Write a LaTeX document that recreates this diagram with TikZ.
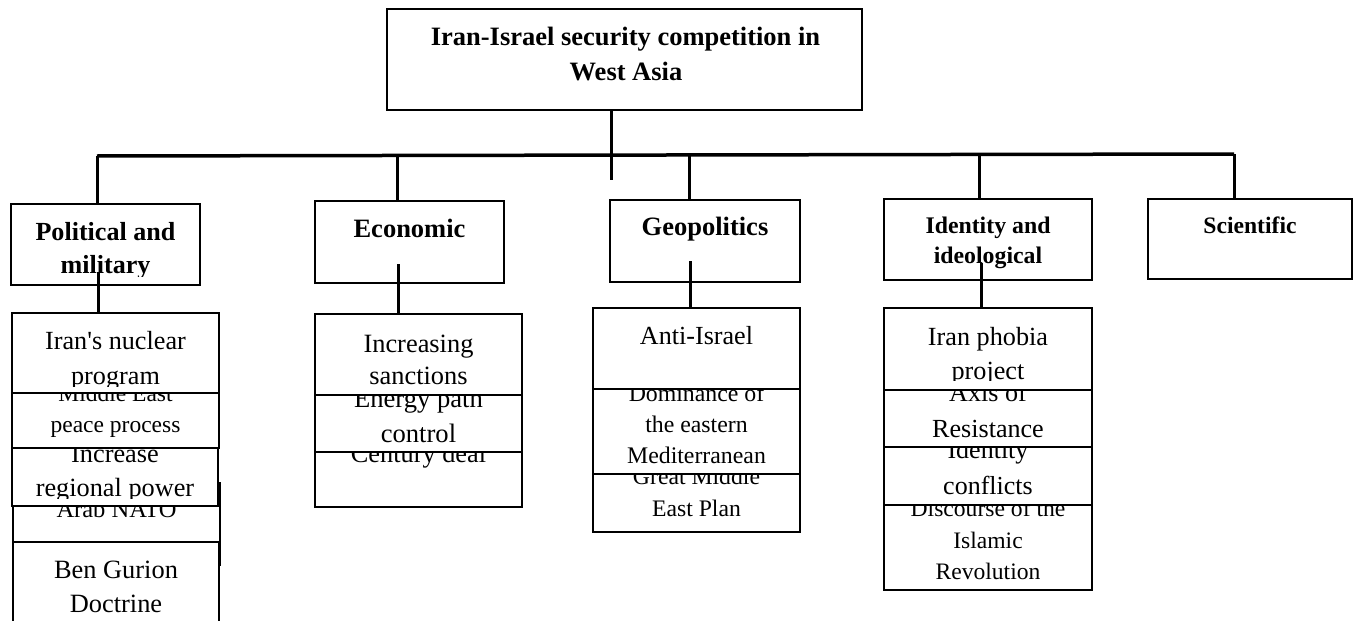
\documentclass[tikz,border=0pt]{standalone}
\usepackage{fontspec}
\setmainfont{Liberation Serif}
\newcommand\mkbox[5]{\node[boxsty, minimum width={(#4-#2)*1pt}, minimum height={(#5-#3)*1pt}] (#1) at ({(#2+#4)/2},{(#3+#5)/2}) {};}
\newcommand\mytxt[5]{\node[#4, anchor=base] (#1) at (#2,#3) {#5};}
\begin{document}
\begin{tikzpicture}[x=1pt,y=-1pt,
  boxsty/.style={draw=black, fill=white, line width=1.8pt, inner sep=0pt, outer sep=0pt},
  conn/.style={line width=3pt},
  barsty/.style={line width=3.5pt},
  rg/.style={font=\fontsize{#1}{#1}\selectfont, inner sep=0pt, outer sep=0pt},
  bd/.style={font=\fontsize{#1}{#1}\selectfont\bfseries, inner sep=0pt, outer sep=0pt}]
\useasboundingbox (0,0) rectangle (1358,621);
\fill[white] (0,0) rectangle (1358,621);
\clip (0,0) rectangle (1358,621);

% top
\mkbox{top}{387}{9}{862}{110}
\mytxt{topa}{625.5}{45}{bd=26.5}{Iran-Israel security competition in}
\mytxt{topb}{626}{80}{bd=26.5}{West Asia}

% headings
\mkbox{pol}{11}{204}{200}{285}
\begin{scope}\clip (11,204) rectangle (200,276);
\mytxt{pola}{105.5}{240}{bd=26.1}{Political and}
\mytxt{polb}{105.5}{273}{bd=26.1}{military}
\end{scope}
\mkbox{eco}{315}{201}{504}{283}
\mytxt{ecoa}{409.5}{237}{bd=26.5}{Economic}
\mkbox{geo}{610}{200}{800}{282}
\mytxt{geoa}{705}{235}{bd=26.5}{Geopolitics}
\mkbox{ide}{884}{199}{1092}{280}
\mytxt{idea}{988}{233}{bd=23.8}{Identity and}
\mytxt{ideb}{988}{263}{bd=23.8}{ideological}
\mkbox{sci}{1148}{199}{1352}{279}
\mytxt{scia}{1250}{233}{bd=23.6}{Scientific}

% political column
\mkbox{pfour}{13}{483}{220}{565}
\begin{scope}\clip (13,483) rectangle (220,556);
\mytxt{pfoura}{116.5}{517}{rg=24.5}{Arab NATO}
\end{scope}
\mkbox{pfive}{13}{542}{219}{630}
\mytxt{pfivea}{116}{578}{rg=26.4}{Ben Gurion}
\mytxt{pfiveb}{116}{612}{rg=26.4}{Doctrine}
\mkbox{pthree}{12}{430}{218}{506}
\begin{scope}\clip (12,430) rectangle (218,498);
\mytxt{pthreea}{115}{462}{rg=26.3}{Increase}
\mytxt{pthreeb}{115}{496}{rg=26.3}{regional power}
\end{scope}
\mkbox{ptwo}{12}{370}{219}{448}
\begin{scope}\clip (12,370) rectangle (219,441);
\mytxt{ptwoa}{115.5}{401}{rg=23.5}{Middle East}
\mytxt{ptwob}{115.5}{432}{rg=23.5}{peace process}
\end{scope}
\mkbox{pone}{12}{313}{219}{393}
\begin{scope}\clip (12,313) rectangle (219,386);
\mytxt{ponea}{115.5}{349}{rg=26.2}{Iran\textquotesingle s nuclear}
\mytxt{poneb}{115.5}{384}{rg=26.2}{program}
\end{scope}

% economic column
\mkbox{ethree}{315}{430}{522}{507}
\begin{scope}\clip (315,430) rectangle (522,499);
\mytxt{ethreea}{418.5}{462}{rg=26.3}{Century deal}
\end{scope}
\mkbox{etwo}{315}{375}{522}{452}
\begin{scope}\clip (315,375) rectangle (522,444);
\mytxt{etwoa}{418.5}{407}{rg=26.6}{Energy path}
\mytxt{etwob}{418.5}{442}{rg=26.6}{control}
\end{scope}
\mkbox{eone}{315}{314}{522}{395}
\begin{scope}\clip (315,314) rectangle (522,387);
\mytxt{eonea}{418.5}{352}{rg=26.4}{Increasing}
\mytxt{eoneb}{418.5}{384}{rg=26.4}{sanctions}
\end{scope}

% geopolitics column
\mkbox{gthree}{593}{450}{800}{532}
\begin{scope}\clip (593,450) rectangle (800,524);
\mytxt{gthreea}{696.5}{484}{rg=23.7}{Great Middle}
\mytxt{gthreeb}{696.5}{516}{rg=23.7}{East Plan}
\end{scope}
\mkbox{gtwo}{593}{370}{800}{474}
\begin{scope}\clip (593,370) rectangle (800,466);
\mytxt{gtwoa}{696.5}{401}{rg=23.8}{Dominance of}
\mytxt{gtwob}{696.5}{432}{rg=23.8}{the eastern}
\mytxt{gtwoc}{696.5}{463}{rg=23.8}{Mediterranean}
\end{scope}
\mkbox{gone}{593}{308}{800}{389}
\mytxt{gonea}{696.5}{344}{rg=26.1}{Anti-Israel}

% identity column
\mkbox{ifour}{884}{480}{1092}{590}
\begin{scope}\clip (884,480) rectangle (1092,581);
\mytxt{ifoura}{988}{516}{rg=23.6}{Discourse of the}
\mytxt{ifourb}{988}{548}{rg=23.6}{Islamic}
\mytxt{ifourc}{988}{579}{rg=23.6}{Revolution}
\end{scope}
\mkbox{ithree}{884}{425}{1092}{505}
\begin{scope}\clip (884,425) rectangle (1092,496);
\mytxt{ithreea}{988}{458}{rg=26}{Identity}
\mytxt{ithreeb}{988}{494}{rg=26}{conflicts}
\end{scope}
\mkbox{itwo}{884}{370}{1092}{447}
\begin{scope}\clip (884,370) rectangle (1092,439);
\mytxt{itwoa}{988}{401}{rg=26.1}{Axis of}
\mytxt{itwob}{988}{437}{rg=26.1}{Resistance}
\end{scope}
\mkbox{ione}{884}{308}{1092}{390}
\begin{scope}\clip (884,308) rectangle (1092,380);
\mytxt{ionea}{988}{345}{rg=26.2}{Iran phobia}
\mytxt{ioneb}{988}{379}{rg=26.2}{project}
\end{scope}

% connectors
\coordinate (cT) at (611,180);
\draw[conn] (top.south -| cT) -- (cT);
\coordinate (bL) at (97,156);
\coordinate (bR) at (1234,154);
\draw[barsty] (bL) -- (bR);
\coordinate (jE) at (397,155.5);
\coordinate (jG) at (689,155);
\coordinate (jI) at (979,154.5);
\draw[conn] (bL) -- (bL |- pol.north);
\draw[conn] (jE) -- (jE |- eco.north);
\draw[conn] (jG) -- (jG |- geo.north);
\draw[conn] (jI) -- (jI |- ide.north);
\draw[conn] (bR) -- (bR |- sci.north);
\coordinate (kP) at (98,272);
\coordinate (kE) at (398,264);
\coordinate (kG) at (690,261);
\coordinate (kI) at (981,263);
\draw[conn] (kP) -- (kP |- pone.north);
\draw[conn] (kE) -- (kE |- eone.north);
\draw[conn] (kG) -- (kG |- gone.north);
\draw[conn] (kI) -- (kI |- ione.north);
\end{tikzpicture}
\end{document}
